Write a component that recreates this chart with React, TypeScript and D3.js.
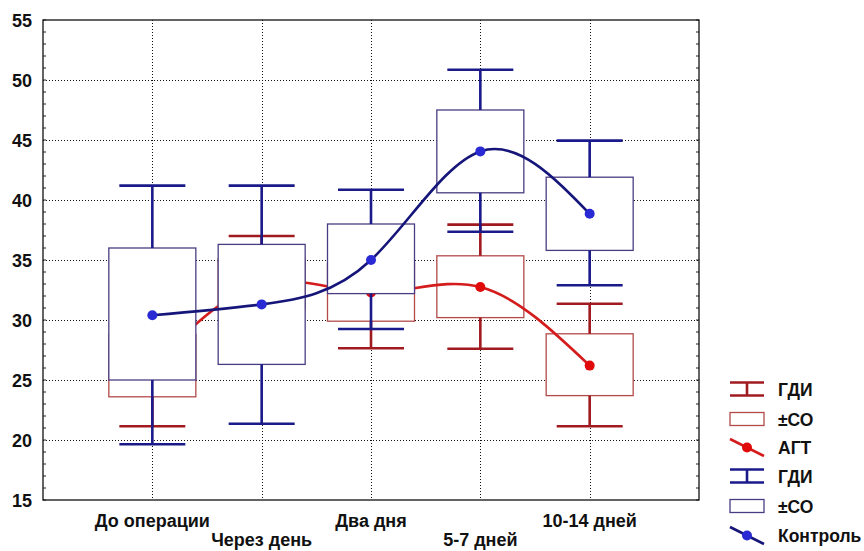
import React, { useRef, useEffect } from "react";
import * as d3 from "d3";

// categories (x axis)
const categories = ["До операции", "Через день", "Два дня", "5-7 дней", "10-14 дней"];
const yTicks = [15, 20, 25, 30, 35, 40, 45, 50, 55];

// АГТ (red)
const agtMean = [26.2, 33.0, 32.3, 32.75, 26.2];
const agtBoxLo = [23.6, 30.9, 29.9, 30.2, 23.7];
const agtBoxHi = [28.8, 35.1, 34.7, 35.35, 28.85];
const agtWhLo = [21.15, 29.0, 27.65, 27.6, 21.15];
const agtWhHi = [31.2, 37.0, 37.0, 37.95, 31.35];

// Контроль (blue)
const ctrlMean = [30.4, 31.3, 35.0, 44.05, 38.85];
const ctrlBoxLo = [25.0, 26.3, 32.2, 40.6, 35.8];
const ctrlBoxHi = [36.0, 36.3, 38.0, 47.5, 41.9];
const ctrlWhLo = [19.65, 21.35, 29.25, 37.35, 32.9];
const ctrlWhHi = [41.2, 41.2, 40.85, 50.85, 44.95];

const legendLabels = ["ГДИ", "±СО", "АГТ", "ГДИ", "±СО", "Контроль"];

const FONT = "'Liberation Sans', Arial, sans-serif";

const App = () => {
  const svgRef = useRef<SVGSVGElement>(null);

  useEffect(() => {
    const svg = d3.select(svgRef.current);
    svg.selectAll("*").remove();

    const left = 43, right = 699, top = 20, bottom = 500;

    const x = d3.scalePoint<string>().domain(categories).range([left, right]).padding(1);
    const y = d3.scaleLinear().domain([15, 55]).range([bottom, top]);

    const boxHalf = 43.5;
    const capHalf = 33;

    // grid
    const grid = svg.append("g").attr("stroke", "#111").attr("stroke-width", 1).attr("stroke-dasharray", "1,2");
    grid.selectAll("line.gy")
      .data(yTicks.filter((t) => t > 15 && t < 55))
      .enter()
      .append("line")
      .attr("x1", left).attr("x2", right)
      .attr("y1", (d) => y(d) + 0.5).attr("y2", (d) => y(d) + 0.5);
    grid.selectAll("line.gx")
      .data(categories)
      .enter()
      .append("line")
      .attr("x1", (d) => Math.round(x(d)!) + 0.5).attr("x2", (d) => Math.round(x(d)!) + 0.5)
      .attr("y1", top).attr("y2", bottom);

    // minor ticks on left and right
    const minor = d3.range(15, 56, 1);
    svg.append("g").selectAll("line")
      .data(minor)
      .enter()
      .append("line")
      .attr("x1", left).attr("x2", left + 3)
      .attr("y1", (d) => y(d)).attr("y2", (d) => y(d))
      .attr("stroke", "#222").attr("stroke-width", 1);
    svg.append("g").selectAll("line")
      .data(minor)
      .enter()
      .append("line")
      .attr("x1", right - 3).attr("x2", right)
      .attr("y1", (d) => y(d)).attr("y2", (d) => y(d))
      .attr("stroke", "#222").attr("stroke-width", 1);

    const drawSeries = (
      mean: number[], boxLo: number[], boxHi: number[], whLo: number[], whHi: number[],
      c: { box: string; whisk: string; line: string; dot: string }
    ) => {
      const g = svg.append("g");
      // boxes
      g.selectAll("rect")
        .data(categories)
        .enter()
        .append("rect")
        .attr("x", (d) => x(d)! - boxHalf)
        .attr("width", boxHalf * 2)
        .attr("y", (_, i) => y(boxHi[i]))
        .attr("height", (_, i) => y(boxLo[i]) - y(boxHi[i]))
        .attr("fill", "#fff")
        .attr("stroke", c.box)
        .attr("stroke-width", 1.3);
      // whiskers
      const wg = g.append("g").attr("stroke", c.whisk).attr("stroke-width", 2.6);
      categories.forEach((cat, i) => {
        const cx = x(cat)!;
        wg.append("line").attr("x1", cx).attr("x2", cx).attr("y1", y(boxHi[i])).attr("y2", y(whHi[i]));
        wg.append("line").attr("x1", cx).attr("x2", cx).attr("y1", y(boxLo[i])).attr("y2", y(whLo[i]));
        wg.append("line").attr("x1", cx - capHalf).attr("x2", cx + capHalf).attr("y1", y(whHi[i])).attr("y2", y(whHi[i]));
        wg.append("line").attr("x1", cx - capHalf).attr("x2", cx + capHalf).attr("y1", y(whLo[i])).attr("y2", y(whLo[i]));
      });
      // mean line
      const line = d3.line<number>()
        .x((_, i) => x(categories[i])!)
        .y((d) => y(d))
        .curve(d3.curveNatural);
      g.append("path")
        .attr("d", line(mean))
        .attr("fill", "none")
        .attr("stroke", c.line)
        .attr("stroke-width", 2.6);
      g.selectAll("circle")
        .data(mean)
        .enter()
        .append("circle")
        .attr("cx", (_, i) => x(categories[i])!)
        .attr("cy", (d) => y(d))
        .attr("r", 5)
        .attr("fill", c.dot);
    };

    const red = { box: "#b34a4a", whisk: "#a11a20", line: "#d41c1c", dot: "#e00a0a" };
    const blue = { box: "#4a3c82", whisk: "#1a1a8a", line: "#15157a", dot: "#2a2ad4" };

    drawSeries(agtMean, agtBoxLo, agtBoxHi, agtWhLo, agtWhHi, red);
    drawSeries(ctrlMean, ctrlBoxLo, ctrlBoxHi, ctrlWhLo, ctrlWhHi, blue);

    // frame
    svg.append("rect")
      .attr("x", left).attr("y", top)
      .attr("width", right - left).attr("height", bottom - top)
      .attr("fill", "none").attr("stroke", "#111").attr("stroke-width", 1.3);

    // y labels
    svg.append("g").selectAll("text")
      .data(yTicks)
      .enter()
      .append("text")
      .attr("x", 32)
      .attr("y", (d) => y(d) + 6.5)
      .attr("text-anchor", "end")
      .attr("font-family", FONT)
      .attr("font-weight", "bold")
      .attr("font-size", 18)
      .attr("fill", "#111")
      .text((d) => d);

    // x labels (staggered)
    svg.append("g").selectAll("text")
      .data(categories)
      .enter()
      .append("text")
      .attr("x", (d) => x(d)!)
      .attr("y", (_, i) => (i % 2 === 0 ? 527 : 546))
      .attr("text-anchor", "middle")
      .attr("font-family", FONT)
      .attr("font-weight", "bold")
      .attr("font-size", 18)
      .attr("fill", "#111")
      .text((d) => d);

    // legend
    const lg = svg.append("g");
    const ly = [389, 419, 447, 476, 506, 535];
    const lx0 = 730, lx1 = 764;
    const sets = [red, red, red, blue, blue, blue];
    ly.forEach((yy, i) => {
      const c = sets[i];
      const kind = i % 3;
      if (kind === 0) {
        const s = lg.append("g").attr("stroke", c.whisk).attr("stroke-width", 2.6);
        s.append("line").attr("x1", lx0).attr("x2", lx1).attr("y1", yy - 6.5).attr("y2", yy - 6.5);
        s.append("line").attr("x1", lx0).attr("x2", lx1).attr("y1", yy + 6.5).attr("y2", yy + 6.5);
        s.append("line").attr("x1", (lx0 + lx1) / 2).attr("x2", (lx0 + lx1) / 2).attr("y1", yy - 6.5).attr("y2", yy + 6.5);
      } else if (kind === 1) {
        lg.append("rect").attr("x", lx0).attr("y", yy - 6.5).attr("width", lx1 - lx0).attr("height", 13)
          .attr("fill", "#fff").attr("stroke", c.box).attr("stroke-width", 1.3);
      } else {
        lg.append("line").attr("x1", lx0).attr("x2", lx1).attr("y1", yy - 8).attr("y2", yy + 9)
          .attr("stroke", c.line).attr("stroke-width", 2.6);
        lg.append("circle").attr("cx", (lx0 + lx1) / 2).attr("cy", yy + 0.5).attr("r", 5).attr("fill", c.dot);
      }
      lg.append("text")
        .attr("x", 778)
        .attr("y", yy + 6.5)
        .attr("font-family", FONT)
        .attr("font-weight", "bold")
        .attr("font-size", 17.5)
        .attr("fill", "#111")
        .text(legendLabels[i]);
    });
  }, []);

  return (
    <svg
      ref={svgRef}
      width={864}
      height={551}
      style={{ position: "absolute", left: 0, top: 0, background: "#fff" }}
    />
  );
};

export default App;
